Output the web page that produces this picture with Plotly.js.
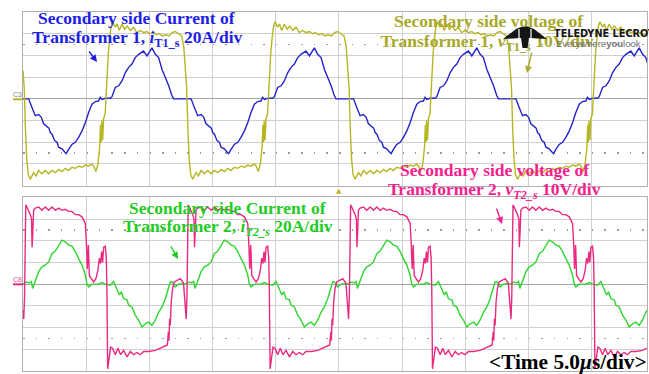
<!DOCTYPE html>
<html><head><meta charset="utf-8">
<script src="https://cdn.plot.ly/plotly-3.0.1.min.js"></script>
<style>html,body{margin:0;padding:0;background:#fff;}#chart{width:649px;height:374px;}</style>
</head><body><div id="chart"></div>
<script>
// time in microseconds (5 us/div), currents in A (20 A/div), voltages in V (10 V/div)
const iT1_t = [
0,0.45,0.71,0.97,1.24,1.45,1.63,1.9,2.05,2.16,2.3,2.5,2.69,2.82,3.08,3.3,3.42,3.61,3.87,4.14,4.4,4.67,4.93,5.19,5.46,5.72,5.98,6.11,6.25,6.5,6.9,7.04,7.17,7.3,7.57,7.83,8.09,8.36,8.62,8.88,9.15,9.41,9.54,9.81,10.2,10.47,10.73,11.0,11.26,11.53,11.78,11.92,
12.85,13.3,13.56,13.82,14.09,14.3,14.48,14.75,14.9,15.01,15.15,15.35,15.54,15.67,15.93,16.15,16.27,16.46,16.72,16.99,17.25,17.52,17.78,18.04,18.31,18.57,18.83,18.96,19.1,19.35,19.75,19.89,20.02,20.15,20.42,20.68,20.94,21.21,21.47,21.73,22.0,22.26,22.39,22.66,23.05,23.32,23.58,23.85,24.11,24.38,24.63,24.77,
25.7,26.15,26.41,26.67,26.94,27.15,27.33,27.6,27.75,27.86,28.0,28.2,28.39,28.52,28.78,29.0,29.12,29.31,29.57,29.84,30.1,30.37,30.63,30.89,31.16,31.42,31.68,31.81,31.95,32.2,32.6,32.74,32.87,33.0,33.27,33.53,33.79,34.06,34.32,34.58,34.85,35.11,35.24,35.51,35.9,36.17,36.43,36.7,36.96,37.23,37.48,37.62,
38.55,39.0,39.26,39.52,39.79,40.0,40.18,40.45,40.6,40.71,40.85,41.05,41.24,41.37,41.63,41.85,41.97,42.16,42.42,42.69,42.95,43.22,43.48,43.74,44.01,44.27,44.53,44.66,44.8,45.05,45.45,45.59,45.72,45.85,46.12,46.38,46.64,46.91,47.17,47.43,47.7,47.96,48.09,48.36,48.75,49.02,49.28,49.55];
const iT1 = [
0,0,-8,-15.5,-14.5,-17,-23,-26,-27,-31,-32.5,-38.5,-40,-44.5,-46,-49,-50.5,-46.5,-42,-40,-35.5,-29.5,-22,-12.5,-5,-2.5,-2,1.5,-0.5,0.5,0.5,2,6,10.5,12,16.5,24,29,32,38,41,42.5,44,39.5,47,41,38,27,20,12,3,0,
0,0,-8,-15.5,-14.5,-17,-23,-26,-27,-31,-32.5,-38.5,-40,-44.5,-46,-49,-50.5,-46.5,-42,-40,-35.5,-29.5,-22,-12.5,-5,-2.5,-2,1.5,-0.5,0.5,0.5,2,6,10.5,12,16.5,24,29,32,38,41,42.5,44,39.5,47,41,38,27,20,12,3,0,
0,0,-8,-15.5,-14.5,-17,-23,-26,-27,-31,-32.5,-38.5,-40,-44.5,-46,-49,-50.5,-46.5,-42,-40,-35.5,-29.5,-22,-12.5,-5,-2.5,-2,1.5,-0.5,0.5,0.5,2,6,10.5,12,16.5,24,29,32,38,41,42.5,44,39.5,47,41,38,27,20,12,3,0,
0,0,-8,-15.5,-14.5,-17,-23,-26,-27,-31,-32.5,-38.5,-40,-44.5,-46,-49,-50.5,-46.5,-42,-40,-35.5,-29.5,-22,-12.5,-5,-2.5,-2,1.5,-0.5,0.5,0.5,2,6,10.5,12,16.5,24,29,32,38,41,42.5,44,39.5,47,41,38,27];

const vT1_t = [
0,0.1,0.2,0.3,0.42,0.58,0.84,1.03,1.24,1.5,1.76,2.03,2.29,2.56,2.82,3.08,3.35,3.6,3.87,4.14,4.4,4.67,4.93,5.19,5.45,5.6,5.77,5.93,6.07,6.13,6.18,6.23,6.3,6.38,6.5,6.59,6.67,6.75,6.86,6.96,7.09,7.3,7.44,7.62,7.83,8.04,8.25,8.49,8.75,9.01,9.28,9.55,9.8,10.05,10.3,10.55,10.8,11.05,11.3,11.55,11.8,12.05,12.3,12.55,12.72,12.8,
12.85,12.95,13.05,13.15,13.27,13.43,13.69,13.88,14.09,14.35,14.61,14.88,15.14,15.41,15.67,15.93,16.2,16.45,16.72,16.99,17.25,17.52,17.78,18.04,18.3,18.45,18.62,18.78,18.92,18.98,19.03,19.08,19.15,19.23,19.35,19.44,19.52,19.6,19.71,19.81,19.94,20.15,20.29,20.47,20.68,20.89,21.1,21.34,21.6,21.86,22.13,22.4,22.65,22.9,23.15,23.4,23.65,23.9,24.15,24.4,24.65,24.9,25.15,25.4,25.57,25.65,
25.7,25.8,25.9,26.0,26.12,26.28,26.54,26.73,26.94,27.2,27.46,27.73,27.99,28.26,28.52,28.78,29.05,29.3,29.57,29.84,30.1,30.37,30.63,30.89,31.15,31.3,31.47,31.63,31.77,31.83,31.88,31.93,32.0,32.08,32.2,32.29,32.37,32.45,32.56,32.66,32.79,33.0,33.14,33.32,33.53,33.74,33.95,34.19,34.45,34.71,34.98,35.25,35.5,35.75,36.0,36.25,36.5,36.75,37.0,37.25,37.5,37.75,38.0,38.25,38.42,38.5,
38.55,38.65,38.75,38.85,38.97,39.13,39.39,39.58,39.79,40.05,40.31,40.58,40.84,41.11,41.37,41.63,41.9,42.15,42.42,42.69,42.95,43.22,43.48,43.74,44.0,44.15,44.32,44.48,44.62,44.68,44.73,44.78,44.85,44.93,45.05,45.14,45.22,45.3,45.41,45.51,45.64,45.85,45.99,46.17,46.38,46.59,46.8,47.04,47.3,47.56,47.83,48.1,48.35,48.6,48.85,49.1,49.35,49.6];
const vT1 = [
13,5,-15,-28,-35,-37,-34,-35.5,-33,-34.5,-33,-34.5,-33,-34,-32.5,-33.5,-32,-33,-31.5,-32,-31,-31.5,-30.5,-31,-30,-31,-33.5,-30,-22,-12,-20,-10,-19,-9,-7,4,14,21,28,33,35.5,33,34.5,31.5,34.5,32,33.5,31.5,33,30.5,31.5,30.5,31,30,30.5,29.5,30,29,29.5,29,30.5,31,30,29,24,17,
13,5,-15,-28,-35,-37,-34,-35.5,-33,-34.5,-33,-34.5,-33,-34,-32.5,-33.5,-32,-33,-31.5,-32,-31,-31.5,-30.5,-31,-30,-31,-33.5,-30,-22,-12,-20,-10,-19,-9,-7,4,14,21,28,33,35.5,33,34.5,31.5,34.5,32,33.5,31.5,33,30.5,31.5,30.5,31,30,30.5,29.5,30,29,29.5,29,30.5,31,30,29,24,17,
13,5,-15,-28,-35,-37,-34,-35.5,-33,-34.5,-33,-34.5,-33,-34,-32.5,-33.5,-32,-33,-31.5,-32,-31,-31.5,-30.5,-31,-30,-31,-33.5,-30,-22,-12,-20,-10,-19,-9,-7,4,14,21,28,33,35.5,33,34.5,31.5,34.5,32,33.5,31.5,33,30.5,31.5,30.5,31,30,30.5,29.5,30,29,29.5,29,30.5,31,30,29,24,17,
13,5,-15,-28,-35,-37,-34,-35.5,-33,-34.5,-33,-34.5,-33,-34,-32.5,-33.5,-32,-33,-31.5,-32,-31,-31.5,-30.5,-31,-30,-31,-33.5,-30,-22,-12,-20,-10,-19,-9,-7,4,14,21,28,33,35.5,33,34.5,31.5,34.5,32,33.5,31.5,33,30.5,31.5,30.5,31,30,30.5,29.5,30,29];

const iT2_t = [
0,0.31,0.5,0.66,0.76,0.97,1.24,1.5,1.76,2.03,2.29,2.56,2.82,3.08,3.35,3.61,3.87,4.14,4.4,4.67,4.93,5.06,5.19,5.46,5.98,6.25,6.51,6.91,7.17,7.3,7.44,7.63,7.78,7.96,8.23,8.36,8.62,8.88,9.15,9.41,9.68,9.94,10.2,10.47,10.73,11.0,11.26,11.52,11.65,11.79,12.05,12.3,12.6,
12.85,13.16,13.35,13.51,13.61,13.82,14.09,14.35,14.61,14.88,15.14,15.41,15.67,15.93,16.2,16.46,16.72,16.99,17.25,17.52,17.78,17.91,18.04,18.31,18.83,19.1,19.36,19.76,20.02,20.15,20.29,20.48,20.63,20.81,21.08,21.21,21.47,21.73,22.0,22.26,22.53,22.79,23.05,23.32,23.58,23.85,24.11,24.37,24.5,24.64,24.9,25.15,25.45,
25.7,26.01,26.2,26.36,26.46,26.67,26.94,27.2,27.46,27.73,27.99,28.26,28.52,28.78,29.05,29.31,29.57,29.84,30.1,30.37,30.63,30.76,30.89,31.16,31.68,31.95,32.21,32.61,32.87,33.0,33.14,33.33,33.48,33.66,33.93,34.06,34.32,34.58,34.85,35.11,35.38,35.64,35.9,36.17,36.43,36.7,36.96,37.22,37.35,37.49,37.75,38.0,38.3,
38.55,38.86,39.05,39.21,39.31,39.52,39.79,40.05,40.31,40.58,40.84,41.11,41.37,41.63,41.9,42.16,42.42,42.69,42.95,43.22,43.48,43.61,43.74,44.01,44.53,44.8,45.06,45.46,45.72,45.85,45.99,46.18,46.33,46.51,46.78,46.91,47.17,47.43,47.7,47.96,48.23,48.49,48.75,49.02,49.28,49.55];
const iT2 = [
0,2,1,2.5,-4,2,11.5,16,17.5,20.5,28,30.5,36,40.5,39,36,35,30,23.5,17.5,8.5,0,-2.5,0,0,1.5,0,-1,2.5,-1,-4,-10,-7,-13.5,-14.5,-19.5,-21,-28.5,-33,-39.5,-36.5,-35,-38,-33,-26,-21,-13.5,-4,2,2,-2.5,0,0.5,
0,2,1,2.5,-4,2,11.5,16,17.5,20.5,28,30.5,36,40.5,39,36,35,30,23.5,17.5,8.5,0,-2.5,0,0,1.5,0,-1,2.5,-1,-4,-10,-7,-13.5,-14.5,-19.5,-21,-28.5,-33,-39.5,-36.5,-35,-38,-33,-26,-21,-13.5,-4,2,2,-2.5,0,0.5,
0,2,1,2.5,-4,2,11.5,16,17.5,20.5,28,30.5,36,40.5,39,36,35,30,23.5,17.5,8.5,0,-2.5,0,0,1.5,0,-1,2.5,-1,-4,-10,-7,-13.5,-14.5,-19.5,-21,-28.5,-33,-39.5,-36.5,-35,-38,-33,-26,-21,-13.5,-4,2,2,-2.5,0,0.5,
0,2,1,2.5,-4,2,11.5,16,17.5,20.5,28,30.5,36,40.5,39,36,35,30,23.5,17.5,8.5,0,-2.5,0,0,1.5,0,-1,2.5,-1,-4,-10,-7,-13.5,-14.5,-19.5,-21,-28.5,-33,-39.5,-36.5,-35,-38,-33,-26,-21];

const vT2_t = [
0,0.06,0.12,0.17,0.22,0.31,0.45,0.58,0.68,0.72,0.78,0.84,0.97,1.24,1.5,1.76,2.03,2.29,2.56,2.82,3.08,3.35,3.61,3.87,4.14,4.4,4.67,4.8,4.93,5.01,5.09,5.17,5.25,5.4,5.59,5.77,5.93,6.04,6.14,6.22,6.3,6.38,6.51,6.59,6.64,6.7,6.8,6.93,7.09,7.3,7.51,7.72,7.96,8.23,8.49,8.75,9.01,9.28,9.54,9.94,10.47,11.0,11.26,11.42,11.5,11.55,11.6,11.65,11.73,11.84,11.97,12.18,12.45,12.7,12.78,
12.85,12.91,12.97,13.02,13.07,13.16,13.3,13.43,13.53,13.57,13.63,13.69,13.82,14.09,14.35,14.61,14.88,15.14,15.41,15.67,15.93,16.2,16.46,16.72,16.99,17.25,17.52,17.65,17.78,17.86,17.94,18.02,18.1,18.25,18.44,18.62,18.78,18.89,18.99,19.07,19.15,19.23,19.36,19.44,19.49,19.55,19.65,19.78,19.94,20.15,20.36,20.57,20.81,21.08,21.34,21.6,21.86,22.13,22.39,22.79,23.32,23.85,24.11,24.27,24.35,24.4,24.45,24.5,24.58,24.69,24.82,25.03,25.3,25.55,25.63,
25.7,25.76,25.82,25.87,25.92,26.01,26.15,26.28,26.38,26.42,26.48,26.54,26.67,26.94,27.2,27.46,27.73,27.99,28.26,28.52,28.78,29.05,29.31,29.57,29.84,30.1,30.37,30.5,30.63,30.71,30.79,30.87,30.95,31.1,31.29,31.47,31.63,31.74,31.84,31.92,32.0,32.08,32.21,32.29,32.34,32.4,32.5,32.63,32.79,33.0,33.21,33.42,33.66,33.93,34.19,34.45,34.71,34.98,35.24,35.64,36.17,36.7,36.96,37.12,37.2,37.25,37.3,37.35,37.43,37.54,37.67,37.88,38.15,38.4,38.48,
38.55,38.61,38.67,38.72,38.77,38.86,39.0,39.13,39.23,39.27,39.33,39.39,39.52,39.79,40.05,40.31,40.58,40.84,41.11,41.37,41.63,41.9,42.16,42.42,42.69,42.95,43.22,43.35,43.48,43.56,43.64,43.72,43.8,43.95,44.14,44.32,44.48,44.59,44.69,44.77,44.85,44.93,45.06,45.14,45.19,45.25,45.35,45.48,45.64,45.85,46.06,46.27,46.51,46.78,47.04,47.3,47.56,47.83,48.09,48.49,49.02,49.55];
const vT2 = [
-12,-16,-6,15,36.5,35.5,34,32,30,17,24,34,35,35.5,34,35.5,34,35.5,34,35,34,34.5,33.5,33.5,32,32,31,29.5,28,19.5,7,18,4,2.5,1,2.5,6.5,12,9.5,15,10,17,17.5,12,-2,-39,-34,-29,-29.5,-32.5,-29.5,-32.5,-30.5,-33.5,-31,-32.5,-31.5,-32.5,-31,-31,-30.5,-29,-28.5,-28,-22,-26,-16,-19,-8,-2,1,1.5,2.5,0.5,-6,
-12,-16,-6,15,36.5,35.5,34,32,30,17,24,34,35,35.5,34,35.5,34,35.5,34,35,34,34.5,33.5,33.5,32,32,31,29.5,28,19.5,7,18,4,2.5,1,2.5,6.5,12,9.5,15,10,17,17.5,12,-2,-39,-34,-29,-29.5,-32.5,-29.5,-32.5,-30.5,-33.5,-31,-32.5,-31.5,-32.5,-31,-31,-30.5,-29,-28.5,-28,-22,-26,-16,-19,-8,-2,1,1.5,2.5,0.5,-6,
-12,-16,-6,15,36.5,35.5,34,32,30,17,24,34,35,35.5,34,35.5,34,35.5,34,35,34,34.5,33.5,33.5,32,32,31,29.5,28,19.5,7,18,4,2.5,1,2.5,6.5,12,9.5,15,10,17,17.5,12,-2,-39,-34,-29,-29.5,-32.5,-29.5,-32.5,-30.5,-33.5,-31,-32.5,-31.5,-32.5,-31,-31,-30.5,-29,-28.5,-28,-22,-26,-16,-19,-8,-2,1,1.5,2.5,0.5,-6,
-12,-16,-6,15,36.5,35.5,34,32,30,17,24,34,35,35.5,34,35.5,34,35.5,34,35,34,34.5,33.5,33.5,32,32,31,29.5,28,19.5,7,18,4,2.5,1,2.5,6.5,12,9.5,15,10,17,17.5,12,-2,-39,-34,-29,-29.5,-32.5,-29.5,-32.5,-30.5,-33.5,-31,-32.5,-31.5,-32.5,-31,-31,-30.5,-29];

const labels = {
  i1a: 'Secondary side Current of', i1b: 'Transformer 1, <i>i</i><sub>T1_s</sub> 20A/div',
  v1a: 'Secondary side voltage of', v1b: 'Transformer 1, <i>v</i><sub>T1_s</sub> 10V/div',
  i2a: 'Secondary side Current of', i2b: 'Transformer 2, <i>i</i><sub><i>T2_s</i></sub> 20A/div',
  v2a: 'Secondary side voltage of', v2b: 'Transformer 2, <i>v</i><sub><i>T2_s</i></sub> 10V/div',
  time: '&lt;Time 5.0<i>μ</i>s/div&gt;',
  brand: 'TELEDYNE LECROY', slogan: 'Everywhere<b>you</b>look'
};

const W = 649, H = 374, ML = 23, MR = 2, MT = 12, MB = 3;
const px = x => (x - ML) / (W - ML - MR);
const py = y => (H - MB - y) / (H - MT - MB);
const xMax = 49.37;

const C = {blue:'#2323cc', olive:'#b6b622', green:'#2fd62f', pink:'#ea2a80',
  tBlue:'#1e1ee6', tOlive:'#a8a82a', tGreen:'#1fcc1f', tPink:'#f5228e'};
const serif = 'Liberation Serif, Times New Roman, serif';

const gridAx = {showgrid:true, gridcolor:'#d0d0d0', gridwidth:1, zeroline:false, showline:true, mirror:true,
  linecolor:'#b0b0b0', linewidth:1, ticks:'', showticklabels:false, fixedrange:true};
const hid = {showgrid:false, zeroline:false, showline:false, showticklabels:false, ticks:'', fixedrange:true};

const traces = [
  {x:iT1_t, y:iT1, xaxis:'x2', yaxis:'y', mode:'lines', line:{color:C.blue, width:1.4}, hoverinfo:'skip'},
  {x:vT1_t, y:vT1, xaxis:'x2', yaxis:'y2', mode:'lines', line:{color:C.olive, width:1.4}, hoverinfo:'skip'},
  {x:iT2_t, y:iT2, xaxis:'x', yaxis:'y3', mode:'lines', line:{color:C.green, width:1.4}, hoverinfo:'skip'},
  {x:vT2_t, y:vT2, xaxis:'x', yaxis:'y4', mode:'lines', line:{color:C.pink, width:1.4}, hoverinfo:'skip'}
];

const minorDots = {tickmode:'array', tickvals:[-50,50], showgrid:true, gridcolor:'#9a9a9a', gridwidth:1.5, griddash:'1.5px,11.14px', ticks:''};
const tickAx = (pos, dir) => Object.assign({}, hid, {overlaying:'x', anchor:'free', position:pos, range:[0,xMax],
  ticks:dir, ticklen:2.5, tickwidth:1, tickcolor:'#9a9a9a', tick0:0, dtick:1, side:'bottom'});

const ann = [];
function txt(t, x, y, color, size, extra) {
  ann.push(Object.assign({text:'<b>'+t+'</b>', xref:'paper', yref:'paper', x:px(x), y:py(y), xanchor:'center', yanchor:'middle',
    showarrow:false, font:{family:serif, size:size, color:color}}, extra||{}));
}
function arrow(x, y, ax, ay, color) {
  ann.push({text:'', xref:'paper', yref:'paper', x:px(x), y:py(y), ax:ax, ay:ay, showarrow:true,
    arrowhead:2, arrowsize:1, arrowwidth:1.4, arrowcolor:color});
}

txt(labels.i1a, 136, 18.3, C.tBlue, 17.5);
txt(labels.i1b, 137, 38.5, C.tBlue, 17.5);
txt(labels.v1a, 488, 20.7, C.tOlive, 17.5);
txt(labels.i2a, 227.5, 207.7, C.tGreen, 17.5);
txt(labels.i2b, 228, 227.5, C.tGreen, 17.5);
txt(labels.v2a, 494, 170, C.tPink, 17.5);
txt(labels.v2b, 494, 190.2, C.tPink, 17.5);
txt(labels.time, 487, 361.5, '#000', 21.3, {xanchor:'left'});

arrow(97, 62, -9, -12, C.tBlue);
arrow(527, 73, 5, -22, C.tOlive);
arrow(178, 259, -8, -14, C.tGreen);
arrow(502, 224, -6, -17, C.tPink);

ann.push({text:'C3', xref:'paper', yref:'paper', x:px(17), y:py(94.5), xanchor:'center', yanchor:'middle', showarrow:false,
  font:{family:'Liberation Sans, sans-serif', size:7, color:'#808080'}});
ann.push({text:'C8', xref:'paper', yref:'paper', x:px(17), y:py(279.5), xanchor:'center', yanchor:'middle', showarrow:false,
  font:{family:'Liberation Sans, sans-serif', size:7, color:'#e0508f'}});
ann.push({text:'▲', xref:'paper', yref:'paper', x:px(338.5), y:py(190.5), xanchor:'center', yanchor:'middle', showarrow:false,
  font:{family:'DejaVu Sans, sans-serif', size:7, color:C.olive}});

// shapes (drawn in order, so the logo sits over the olive label line like on the scope screen)
function labelRect(x0, y0, x1, y1, text, font, pos) {
  return {type:'rect', xref:'paper', yref:'paper', x0:px(x0), x1:px(x1), y0:py(y1), y1:py(y0),
    line:{width:0}, fillcolor:'rgba(0,0,0,0)', layer:'above',
    label:{text:text, font:font, textposition:pos||'middle center', padding:0}};
}
const P = (x, y) => px(x).toFixed(5) + ',' + py(y).toFixed(5);
const shapes = [
  {type:'line', xref:'paper', yref:'paper', x0:px(13), x1:px(23), y0:py(99.3), y1:py(99.3), line:{color:C.olive, width:2}},
  {type:'line', xref:'paper', yref:'paper', x0:px(13), x1:px(23), y0:py(284.3), y1:py(284.3), line:{color:C.pink, width:2}},
  labelRect(380, 31, 594, 51, '<b>'+labels.v1b+'</b>', {family:serif, size:17.5, color:C.tOlive}),
  {type:'path', xref:'paper', yref:'paper', layer:'above', line:{width:0}, fillcolor:'#151515',
    path:'M'+P(503,39)+'L'+P(516,29)+'L'+P(525,25.5)+'L'+P(534,29)+'L'+P(547,39)+'L'+P(529,38)+'L'+P(527.5,48)+'L'+P(522.5,48)+'L'+P(521,38)+'Z'},
  {type:'line', xref:'paper', yref:'paper', layer:'above', x0:px(519), x1:px(519), y0:py(29), y1:py(39), line:{color:'#fff', width:1.2}},
  {type:'line', xref:'paper', yref:'paper', layer:'above', x0:px(531), x1:px(531), y0:py(29), y1:py(39), line:{color:'#fff', width:1.2}},
  labelRect(551, 27, 660, 39, '<b>'+labels.brand+'</b>', {family:'Liberation Sans Narrow, DejaVu Sans Condensed, Liberation Sans, sans-serif', size:10.8, color:'#151515'}, 'middle left'),
  labelRect(553, 38, 660, 47, labels.slogan, {family:'Liberation Sans, sans-serif', size:9.5, color:'#707070'}, 'middle left')
];

const layout = {
  width:W, height:H, margin:{l:ML, r:MR, t:MT, b:MB, pad:0},
  paper_bgcolor:'#fff', plot_bgcolor:'#fff', showlegend:false,
  xaxis: Object.assign({}, gridAx, {domain:[0,1], anchor:'y3', range:[0,xMax], tick0:0, dtick:5}),
  xaxis2: Object.assign({}, gridAx, {domain:[0,1], anchor:'y', range:[0,xMax], tick0:0, dtick:5}),
  xaxis3: tickAx(py(99.3), 'outside'),
  xaxis4: tickAx(py(99.3), 'inside'),
  xaxis5: tickAx(py(284.3), 'outside'),
  xaxis6: tickAx(py(284.3), 'inside'),
  yaxis: Object.assign({}, gridAx, {domain:[py(185.7), 1], anchor:'x2', range:[-80,80], tick0:0, dtick:20,
    zeroline:true, zerolinecolor:'#a4a4a4', zerolinewidth:1, minor:minorDots}),
  yaxis2: Object.assign({}, hid, {overlaying:'y', anchor:'x2', range:[-40,40]}),
  yaxis3: Object.assign({}, gridAx, {domain:[0, py(197.3)], anchor:'x', range:[-80,80], tick0:0, dtick:20,
    zeroline:true, zerolinecolor:'#a4a4a4', zerolinewidth:1, minor:minorDots}),
  yaxis4: Object.assign({}, hid, {overlaying:'y3', anchor:'x', range:[-40,40]}),
  annotations: ann,
  shapes: shapes
};

Plotly.newPlot('chart', traces, layout, {displayModeBar:false, staticPlot:true});
</script></body></html>
